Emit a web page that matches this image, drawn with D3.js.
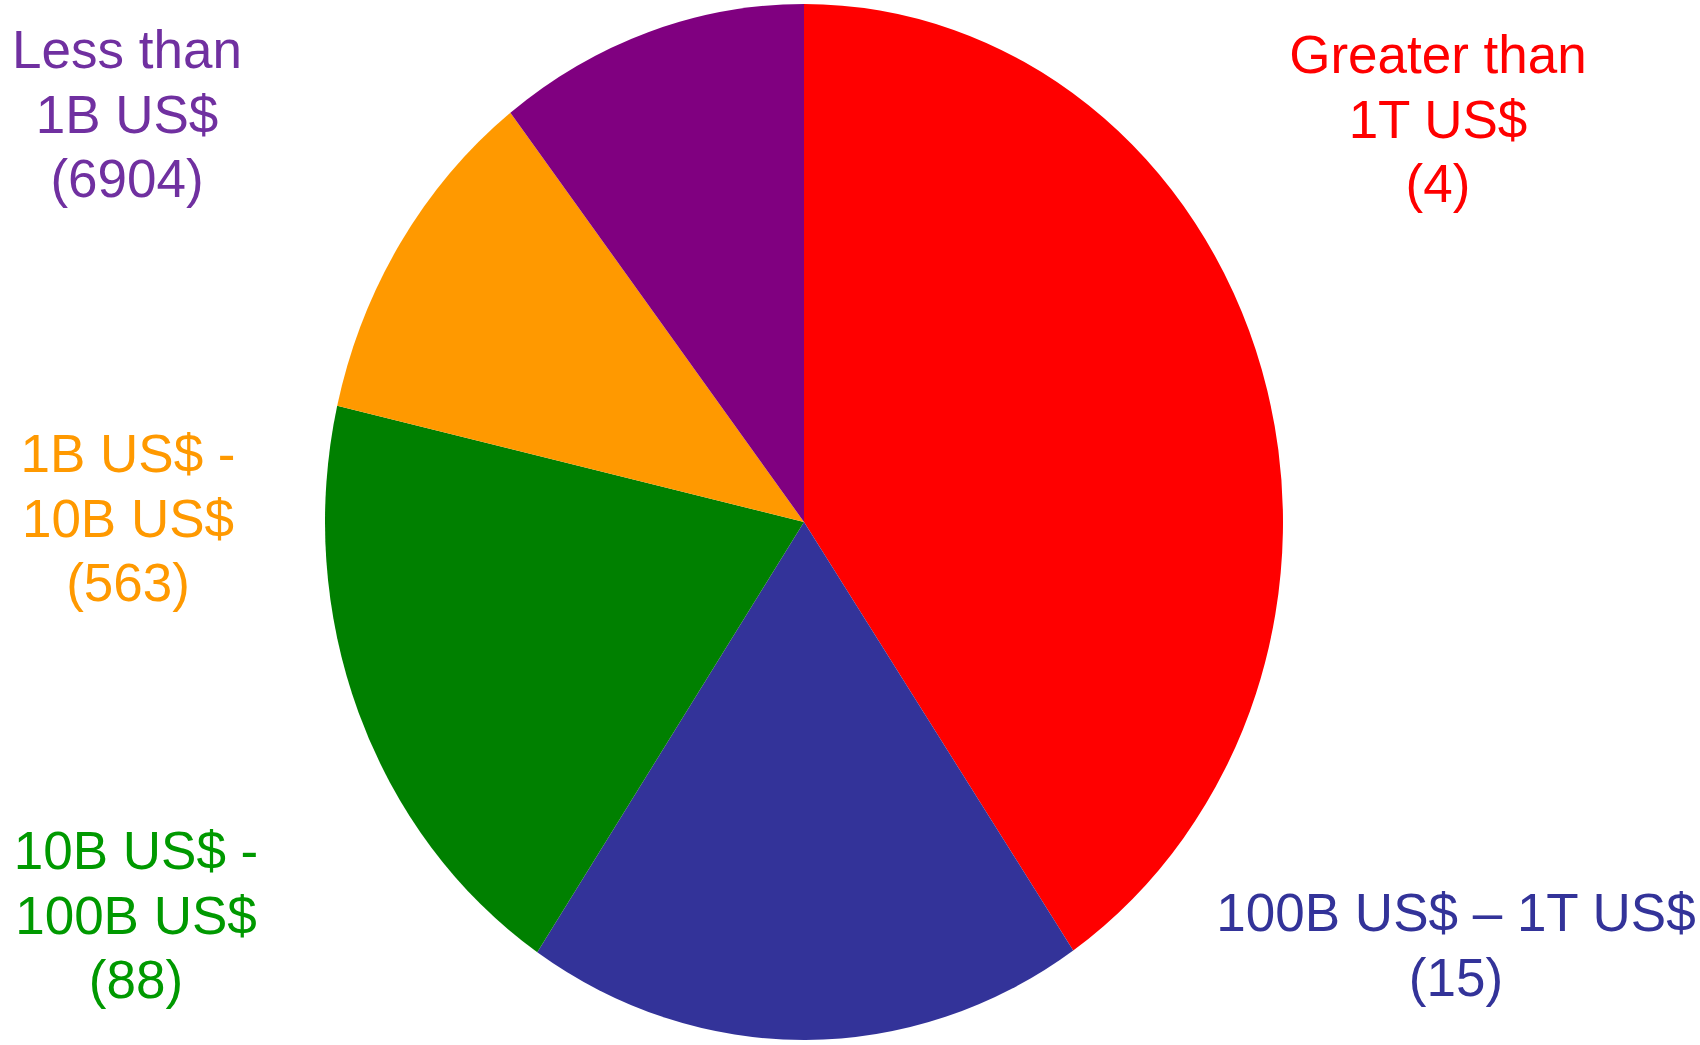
<!DOCTYPE html>
<html>
<head>
<meta charset="utf-8">
<script src="https://cdn.jsdelivr.net/npm/d3@7"></script>
<style>
  body { margin: 0; background: #fff; }
  text { font-family: "Liberation Sans", Arial, sans-serif; }
</style>
</head>
<body>
<script>
// slice data, clockwise from 12 o'clock
var categories = ["Greater than 1T US$", "100B US$ \u2013 1T US$", "10B US$ - 100B US$", "1B US$ - 10B US$", "Less than 1B US$"];
var counts = [4, 15, 88, 563, 6904];
var shares = [40.5, 18.9, 19.2, 10.9, 10.5];
var labelLines = [
  ["Greater than", "1T US$", "(4)"],
  ["100B US$ \u2013 1T US$", "(15)"],
  ["10B US$ -", "100B US$", "(88)"],
  ["1B US$ -", "10B US$", "(563)"],
  ["Less than", "1B US$", "(6904)"]
];

var sliceColors = ["#ff0000", "#333399", "#008000", "#ff9900", "#800080"];
var textColors = ["#ff0000", "#333399", "#009900", "#ff9900", "#7030a0"];
// label anchor: centre x, first baseline y
var labelPos = [[1438, 73], [1456, 931], [136, 869], [128, 472], [127, 68]];

var w = 1700;
var h = 1045;
var cx = 804, cy = 522;
var ry = 518, rx = 479;

var svg = d3.select("body")
  .append("svg")
  .attr("width", w)
  .attr("height", h);

var pie = d3.pie()
  .sort(null)
  .value(function(d) { return d; });

var arc = d3.arc()
  .innerRadius(0)
  .outerRadius(ry);

var g = svg.append("g")
  .attr("transform", "translate(" + cx + "," + cy + ") scale(" + (rx / ry) + ",1)");

g.selectAll("path")
  .data(pie(shares))
  .enter()
  .append("path")
  .attr("d", arc)
  .attr("fill", function(d, i) { return sliceColors[i]; });

var lineH = 64.5;

var labels = svg.selectAll(".label")
  .data(labelLines)
  .enter()
  .append("text")
  .classed("label", true)
  .attr("text-anchor", "middle")
  .attr("font-size", 53)
  .attr("fill", function(d, i) { return textColors[i]; });

labels.each(function(lines, i) {
  d3.select(this).selectAll("tspan")
    .data(lines)
    .enter()
    .append("tspan")
    .attr("x", labelPos[i][0])
    .attr("y", function(d, j) { return labelPos[i][1] + j * lineH; })
    .text(function(d) { return d; });
});
</script>
</body>
</html>
